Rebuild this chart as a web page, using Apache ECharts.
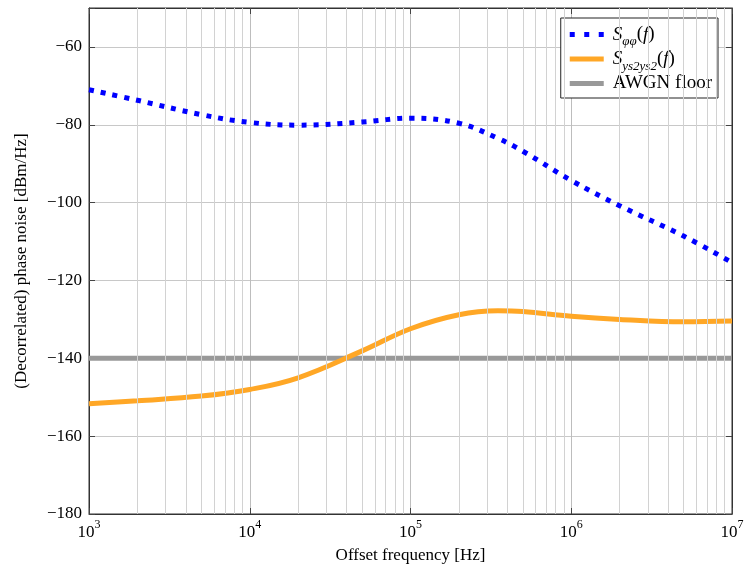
<!DOCTYPE html>
<html><head><meta charset="utf-8">
<script src="https://cdn.jsdelivr.net/npm/echarts@6/dist/echarts.min.js"></script>
<style>html,body{margin:0;padding:0;background:#fff}#c{width:744px;height:565px}</style>
</head><body><div id="c"></div>
<script>
const freqs = [1e3, 2e3, 5e3, 1e4, 2e4, 5e4, 1e5, 2e5, 3.5e5, 5e5, 1e6, 2e6, 5e6, 1e7];
const phiNoise = [-71.0, -73.7, -77.4, -79.4, -80.1, -79.3, -78.3, -79.6, -83.5, -86.8, -94.3, -100.8, -108.6, -115.4];
const ys2Noise = [-151.7, -150.9, -149.7, -148.0, -145.0, -138.1, -132.4, -128.8, -127.8, -128.0, -129.2, -130.0, -130.6, -130.4];
const awgnFreqs = [1e3, 1e7];
const awgnLevel = [-140, -140];
const minorGridFreqs = [2e3,3e3,4e3,5e3,6e3,7e3,8e3,9e3,2e4,3e4,4e4,5e4,6e4,7e4,8e4,9e4,2e5,3e5,4e5,5e5,6e5,7e5,8e5,9e5,2e6,3e6,4e6,5e6,6e6,7e6,8e6,9e6];
const yTicks = [-180, -160, -140, -120, -100, -80, -60];

const FONT = '"Liberation Serif", "DejaVu Serif", serif';
const pair = (xs, ys) => xs.map((x, i) => [x, ys[i]]);

const chart = echarts.init(document.getElementById('c'));
const supRich = {
  b: {fontFamily: FONT, fontSize: 17, color: '#000', lineHeight: 22, verticalAlign: 'bottom'},
  s: {fontFamily: FONT, fontSize: 12, color: '#000', verticalAlign: 'top', lineHeight: 22}
};
const legRich = {
  g: {width: 4, lineHeight: 22},
  i: {fontFamily: FONT, fontStyle: 'italic', fontSize: 19, color: '#000', lineHeight: 22},
  n: {fontFamily: FONT, fontSize: 19, color: '#000', lineHeight: 22},
  sub: {fontFamily: FONT, fontStyle: 'italic', fontSize: 13, color: '#000', lineHeight: 22, verticalAlign: 'bottom', padding: [0,0,-3,0]}
};
chart.setOption({
  animation: false,
  backgroundColor: '#fff',
  grid: {left: 89, right: 12, top: 8, bottom: 51, show: true, borderColor: '#333', borderWidth: 1,
    containLabel: false, outerBoundsMode: 'none'},
  legend: {
    right: 26, top: 18, orient: 'vertical', itemWidth: 34, itemHeight: 5, itemGap: 1,
    padding: [7, 6, 5, 9], borderColor: '#222', borderWidth: 1, backgroundColor: '#fff',
    data: [
      {name: 'phi', icon: 'path://M0,0h5v5h-5z M14.5,0h5v5h-5z M29,0h5v5h-5z'},
      {name: 'ys2', icon: 'rect'},
      {name: 'AWGN floor', icon: 'rect'}
    ],
    formatter: function (n) {
      if (n === 'phi') return '{g|}{i|S}{sub|φφ}{n|(}{i|f}{n|)}';
      if (n === 'ys2') return '{g|}{i|S}{sub|ys2ys2}{n|(}{i|f}{n|)}';
      return '{g|}{n|AWGN floor}';
    },
    textStyle: {fontFamily: FONT, fontSize: 19, color: '#000', rich: legRich}
  },
  xAxis: [{
    type: 'log', logBase: 10, min: 1e3, max: 1e7,
    name: 'Offset frequency [Hz]', nameLocation: 'middle', nameGap: 33,
    nameTextStyle: {fontFamily: FONT, fontSize: 17, color: '#000'},
    axisLine: {lineStyle: {color: '#333'}},
    axisTick: {inside: true, length: 6, lineStyle: {color: '#444'}},
    axisLabel: {margin: 5, formatter: v => '{b|10}{s|' + Math.round(Math.log10(v)) + '}', rich: supRich},
    splitLine: {show: true, lineStyle: {color: '#bdbdbd', width: 1}}
  }, {
    type: 'log', logBase: 10, min: 1e3, max: 1e7, position: 'top',
    axisLine: {lineStyle: {color: '#333'}},
    axisTick: {inside: true, length: 6, lineStyle: {color: '#444'}},
    axisLabel: {show: false}, splitLine: {show: false}
  }],
  yAxis: [{
    type: 'value', min: -180, max: -50, interval: 20,
    name: '(Decorrelated) phase noise [dBm/Hz]', nameLocation: 'middle', nameGap: 59,
    nameTextStyle: {fontFamily: FONT, fontSize: 17, color: '#000'},
    axisLine: {show: true, lineStyle: {color: '#333'}},
    axisTick: {inside: true, length: 6, lineStyle: {color: '#444'}},
    axisLabel: {fontFamily: FONT, fontSize: 17, color: '#000', margin: 7,
      formatter: v => yTicks.includes(v) ? String(v).replace('-', '\u2212') : ''},
    splitLine: {show: true, lineStyle: {color: '#c8c8c8', width: 1}}
  }, {
    type: 'value', min: -180, max: -50, interval: 20, position: 'right',
    axisLine: {show: true, lineStyle: {color: '#333'}},
    axisTick: {inside: true, length: 6, lineStyle: {color: '#444'}},
    axisLabel: {show: false}, splitLine: {show: false}
  }],
  series: [
    {
      name: 'minor', type: 'line', data: [], silent: true,
      markLine: {silent: true, symbol: 'none', label: {show: false},
        lineStyle: {color: '#d2d2d2', width: 1, type: 'solid'},
        data: minorGridFreqs.map(f => ({xAxis: f}))}
    },
    {
      name: 'AWGN floor', type: 'line', data: pair(awgnFreqs, awgnLevel), symbol: 'none',
      lineStyle: {color: '#999999', width: 5}, itemStyle: {color: '#999999'}, z: 3
    },
    {
      name: 'ys2', type: 'line', data: pair(freqs, ys2Noise), symbol: 'none', smooth: 0.4,
      lineStyle: {color: '#ffa726', width: 5}, itemStyle: {color: '#ffa726'}, z: 4
    },
    {
      name: 'phi', type: 'line', data: pair(freqs, phiNoise), symbol: 'none', smooth: 0.4,
      lineStyle: {color: '#0000ff', width: 5, type: [5, 7], cap: 'butt'}, itemStyle: {color: '#0000ff'}, z: 5
    }
  ]
});
</script></body></html>
